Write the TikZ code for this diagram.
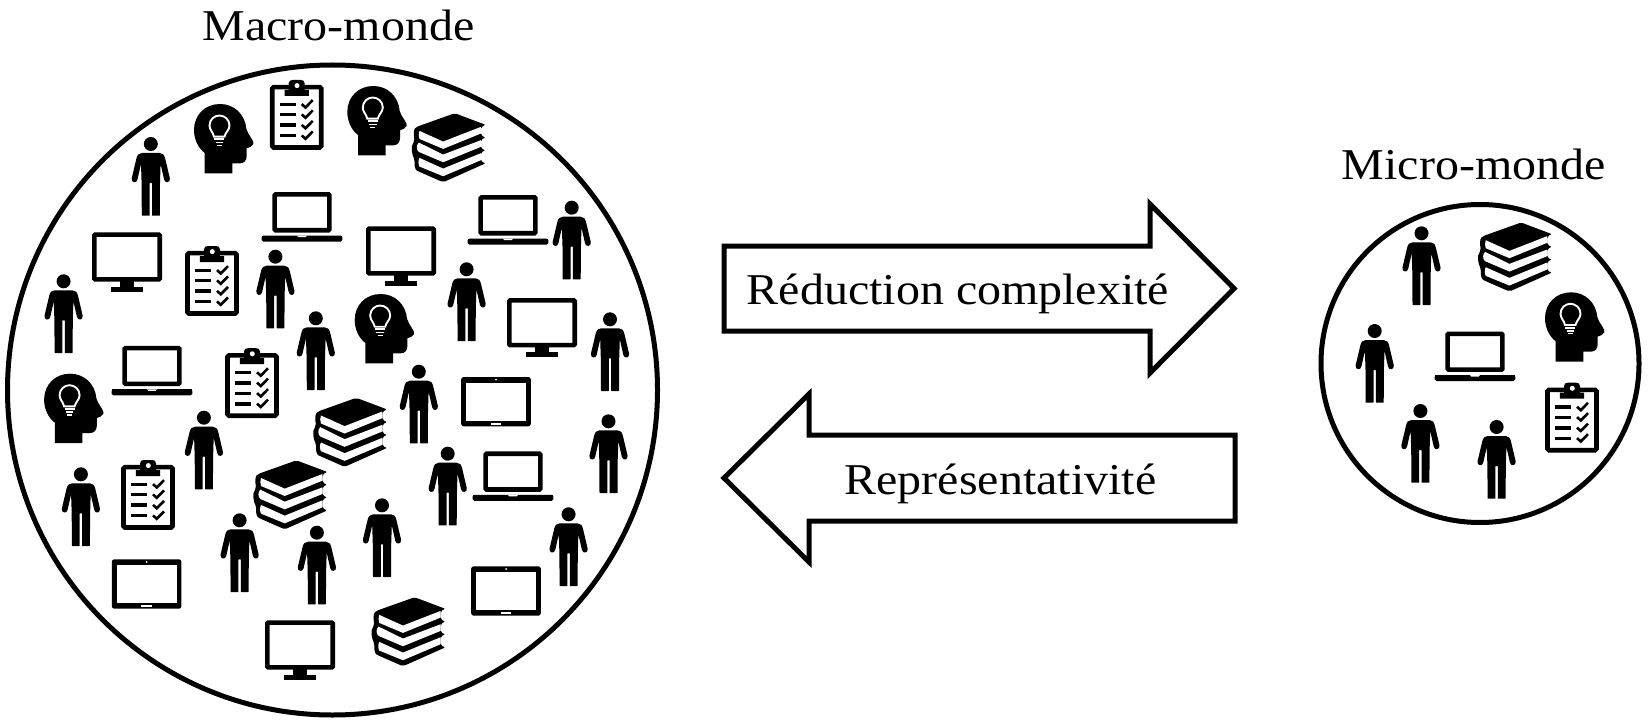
\documentclass[tikz,border=0pt]{standalone}
\usepackage{fontspec}
\newfontfamily\labelfont[FakeStretch=1.09]{Liberation Serif}
\tikzset{
  ring/.style={circle,draw=black,line width=5pt,fill=white,inner sep=0pt,outer sep=0pt},
  blockarrow/.style={draw=black,line width=5pt,fill=white,miter limit=10,line join=miter},
  caption/.style={anchor=base,inner sep=0pt,outer sep=0pt,font=\labelfont\fontsize{44}{48}\selectfont,text=black},
  personicon/.pic={
    \fill[black] (0,0) circle (7);
    \fill[black,rounded corners=0.4pt] (0,9) -- (-8.5,9) .. controls (-12,9) and (-13.6,11) .. (-14.5,15)
      -- (-19,34) .. controls (-19.8,38.8) and (-14,39.8) .. (-13.2,35) -- (-9.8,20) -- (-9.2,39) -- (-9,71.7)
      -- (-1.2,71.7) -- (-1.2,39) -- (1.2,39) -- (1.2,71.7) -- (9,71.7) -- (9.2,39) -- (9.8,20)
      -- (13.2,35) .. controls (14,39.8) and (19.8,38.8) .. (19,34) -- (14.5,15)
      .. controls (13.6,11) and (12,9) .. (8.5,9) -- cycle;
  },
  headicon/.pic={
    \fill[black] (-15.3,43.3) -- (-15.3,23) .. controls (-22,18) and (-26,9) .. (-26,0)
      .. controls (-26,-15) and (-15,-26) .. (0,-26)
      .. controls (14,-26) and (25,-16) .. (26.4,-1)
      .. controls (28,5) and (34.5,11) .. (33.4,14) .. controls (32.5,16.5) and (29,17.5) .. (26.7,18.3)
      -- (26.7,26) .. controls (26.7,30.5) and (24,33.3) .. (20,33.3) -- (12.3,33.3) -- (12.3,43.3) -- cycle;
    \draw[white,line width=1.9pt] (-6,6.7) .. controls (-7,2) and (-10.5,0) .. (-10.5,-4.5)
      .. controls (-10.5,-10.5) and (-5.5,-14.5) .. (-0.7,-14.5)
      .. controls (4.5,-14.5) and (9.5,-10.5) .. (9.5,-4.5)
      .. controls (9.5,0) and (5.5,2) .. (4.5,6.7) -- cycle;
    \fill[white] (-5.6,8.4) rectangle (4.4,10.2);
    \fill[white] (-4.3,11.6) rectangle (3.3,13.4);
    \fill[white] (-3,14.6) rectangle (1.8,16);
  },
  clipicon/.pic={
    \draw[black,line width=4.6pt,rounded corners=1.5pt,fill=white] (-24.5,-30.2) rectangle (24.5,30.2);
    \fill[black] (-12.2,-21.3) -- (-12.2,-27.3) -- (-8,-27.3) -- (-8,-34) .. controls (-8,-36.5) and (-6,-37.3) .. (-4,-37.3)
      -- (4,-37.3) .. controls (6,-37.3) and (8,-36.5) .. (8,-34) -- (8,-27.3) -- (12.2,-27.3) -- (12.2,-21.3) -- cycle;
    \fill[white] (0.3,-31.7) circle (2.5);
    \foreach \yy in {-13,-2.7,7.8,18.3}{
      \fill[black] (-16.7,\yy-1.7) rectangle (-1,\yy+1.7);
      \draw[black,line width=2.6pt] (5,\yy-0.2) -- (8.8,\yy+3.2) -- (16,\yy-4.2);
    }
  },
  laptopicon/.pic={
    \draw[black,line width=4.6pt,rounded corners=1pt,fill=white] (-27.4,-17.9) rectangle (27.4,17.9);
    \fill[black,rounded corners=1.6pt] (-40.3,23.3) -- (40.3,23.3) -- (40.3,29.3) -- (-40.3,29.3) -- cycle;
    \fill[black] (-40.3,23.3) rectangle (40.3,25.5);
    \fill[white] (-5,23.3) -- (5,23.3) -- (3.8,24.8) -- (-3.8,24.8) -- cycle;
  },
  monitoricon/.pic={
    \draw[black,line width=4.6pt,rounded corners=1pt,fill=white] (-32.7,-22.4) rectangle (32.7,22.4);
    \fill[black] (-7,24) rectangle (7,30);
    \fill[black] (-15.8,29.7) rectangle (15.8,34.7);
  },
  tableticon/.pic={
    \fill[black,rounded corners=2.5pt] (-34.8,-24.7) rectangle (34.8,24.7);
    \fill[white] (-30,-19.2) rectangle (30,19.4);
    \fill[white] (0,-22) circle (1);
    \fill[white] (-5.2,20.8) rectangle (5.2,22.8);
  },
  bookicon/.pic={
    \begin{scope}[shift={(-44.2,-42.8)},scale=1/3]
      \fill[black,rounded corners=2pt] (150,25) -- (243,60) -- (228,66) -- (228,92) -- (243,98) -- (228,104) -- (228,131)
        -- (243,136) -- (228,142) -- (228,170) -- (243,175) -- (115,232) -- (42,200)
        .. controls (32,195) and (28,185) .. (30,165) .. controls (22,150) and (16,125) .. (30,108)
        .. controls (26,92) and (26,75) .. (35,66) -- cycle;
      \fill[white] (44,78) -- (115,110) -- (228,66) -- (228,86) -- (115,132) -- (44,102) .. controls (41,95) and (41,85) .. (44,78) -- cycle;
      \fill[white] (42,113) -- (115,149) -- (228,106) -- (228,126) -- (115,172) -- (42,141) .. controls (34,135) and (34,120) .. (42,113) -- cycle;
      \fill[white] (44,159) -- (115,191) -- (228,145) -- (228,166) -- (115,214) -- (44,185) .. controls (40,178) and (40,166) .. (44,159) -- cycle;
    \end{scope}
  },
}
\begin{document}
\begin{tikzpicture}[x=1pt,y=-1pt]
\useasboundingbox (0,0) rectangle (1648,722);
\fill[white] (0,0) rectangle (1648,722);
\node[ring,minimum size=650pt] (macro) at (332.5,390) {};
\node[ring,minimum size=318pt] (micro) at (1480,363.5) {};
\node[caption] (macrolabel) at (338.5,41) {Macro-monde};
\node[caption] (microlabel) at (1473.7,180) {Micro-monde};
\draw[blockarrow] (724,246) -- (1150,246) -- (1150,204) -- (1234,288.5) -- (1150,373) -- (1150,331) -- (724,331) -- cycle;
\draw[blockarrow] (1235,435) -- (809,435) -- (809,394) -- (724,478) -- (809,562) -- (809,521) -- (1235,521) -- cycle;
\node[caption] (reduction) at (958,304) {Réduction complexité};
\node[caption] (representativite) at (1000.5,494) {Représentativité};
\foreach \px/\py in {150.8/144,571.7/207.7,275.4/256.7,466.6/269.3,63.6/281.3,315.8/318.3,610/319.3,418.8/371.7,203.9/417.7,608.5/421.3,80.9/474.3,447.7/453.7,382/505.3,239.6/520.3,316.9/532.7,568.6/514.3,1421.5/233.3,1374.7/331,1420.4/411,1496.6/427}
  \pic at (\px,\py) {personicon};
\foreach \px/\py in {220/130,373.3/112,380.7/320,70.1/399.7,1571/318.3}
  \pic at (\px,\py) {headicon};
\foreach \px/\py in {296.7/117.3,212/283.3,252/385.5,148/497.3,1572/420}
  \pic at (\px,\py) {clipicon};
\foreach \px/\py in {302/212.3,508/215.3,152/366,513/471.6,1475/351.7}
  \pic at (\px,\py) {laptopicon};
\foreach \px/\py in {127/257,401/251,542/322.7,300/645}
  \pic at (\px,\py) {monitoricon};
\foreach \px/\py in {496/401.7,146.6/584,506/591}
  \pic at (\px,\py) {tableticon};
\foreach \px/\py in {449/147.7,350.5/432.3,290.6/494.8,408.8/631.7,1515.3/257}
  \pic at (\px,\py) {bookicon};
\end{tikzpicture}
\end{document}
